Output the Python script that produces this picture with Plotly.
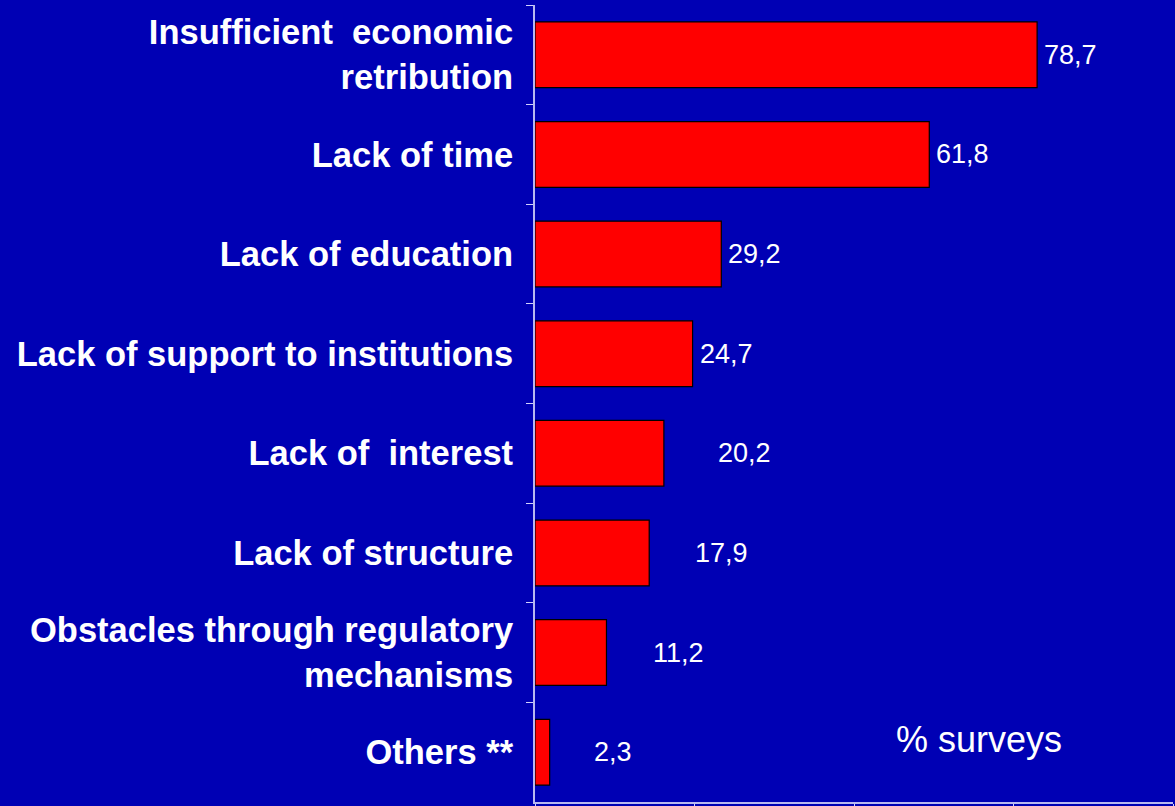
import plotly.graph_objects as go

categories = [
    "Insufficient  economic<br>retribution",
    "Lack of time",
    "Lack of education",
    "Lack of support to institutions",
    "Lack of  interest",
    "Lack of structure",
    "Obstacles through regulatory<br>mechanisms",
    "Others **",
]
values = [78.7, 61.8, 29.2, 24.7, 20.2, 17.9, 11.2, 2.3]
value_labels = ["78,7", "61,8", "29,2", "24,7", "20,2", "17,9", "11,2", "2,3"]
label_x = [79.5, 62.6, 30.0, 25.5, 28.4, 24.8, 18.2, 9.0]
x_ticks = [0, 25, 50, 75, 100]
unit_note = "% surveys"

fig = go.Figure()
fig.add_trace(go.Bar(
    y=categories, x=values, orientation="h",
    width=0.66,
    marker=dict(color="#FF0000", line=dict(color="#000000", width=1.2)),
    hoverinfo="skip",
))

for c, lx, t in zip(categories, label_x, value_labels):
    fig.add_annotation(x=lx, y=c, text=t, showarrow=False, xanchor="left",
                       yanchor="middle",
                       font=dict(family="Liberation Sans, Arial", size=27, color="white"))

fig.add_annotation(x=56.3, y=categories[7], text=unit_note, showarrow=False, xanchor="left",
                   yanchor="middle", yshift=13,
                   font=dict(family="Liberation Sans, Arial", size=36, color="white"))

fig.update_layout(
    width=1175, height=806,
    margin=dict(l=535, r=2, t=5, b=4),
    paper_bgcolor="#0000B4",
    plot_bgcolor="#0000B4",
    showlegend=False,
)
fig.update_yaxes(
    autorange="reversed", automargin=False,
    showline=True, linecolor="#B8B8F0", linewidth=2,
    ticks="outside", tickson="boundaries", ticklen=7, tickcolor="#D0D0FF", tickwidth=1,
    ticklabelstandoff=13,
    showgrid=False,
    tickfont=dict(family="Liberation Sans, Arial", size=34.5, color="white", weight="bold"),
)
fig.update_xaxes(
    range=[0, 100], tickvals=x_ticks, showticklabels=False, automargin=False,
    showline=True, linecolor="#B8B8F0", linewidth=2,
    ticks="outside", ticklen=5, tickcolor="#D0D0FF",
    showgrid=False, zeroline=False,
)

fig.write_html("out.html", config={"displayModeBar": False},
               post_script="document.body.style.margin='0';document.body.style.background='#0000B4';")
